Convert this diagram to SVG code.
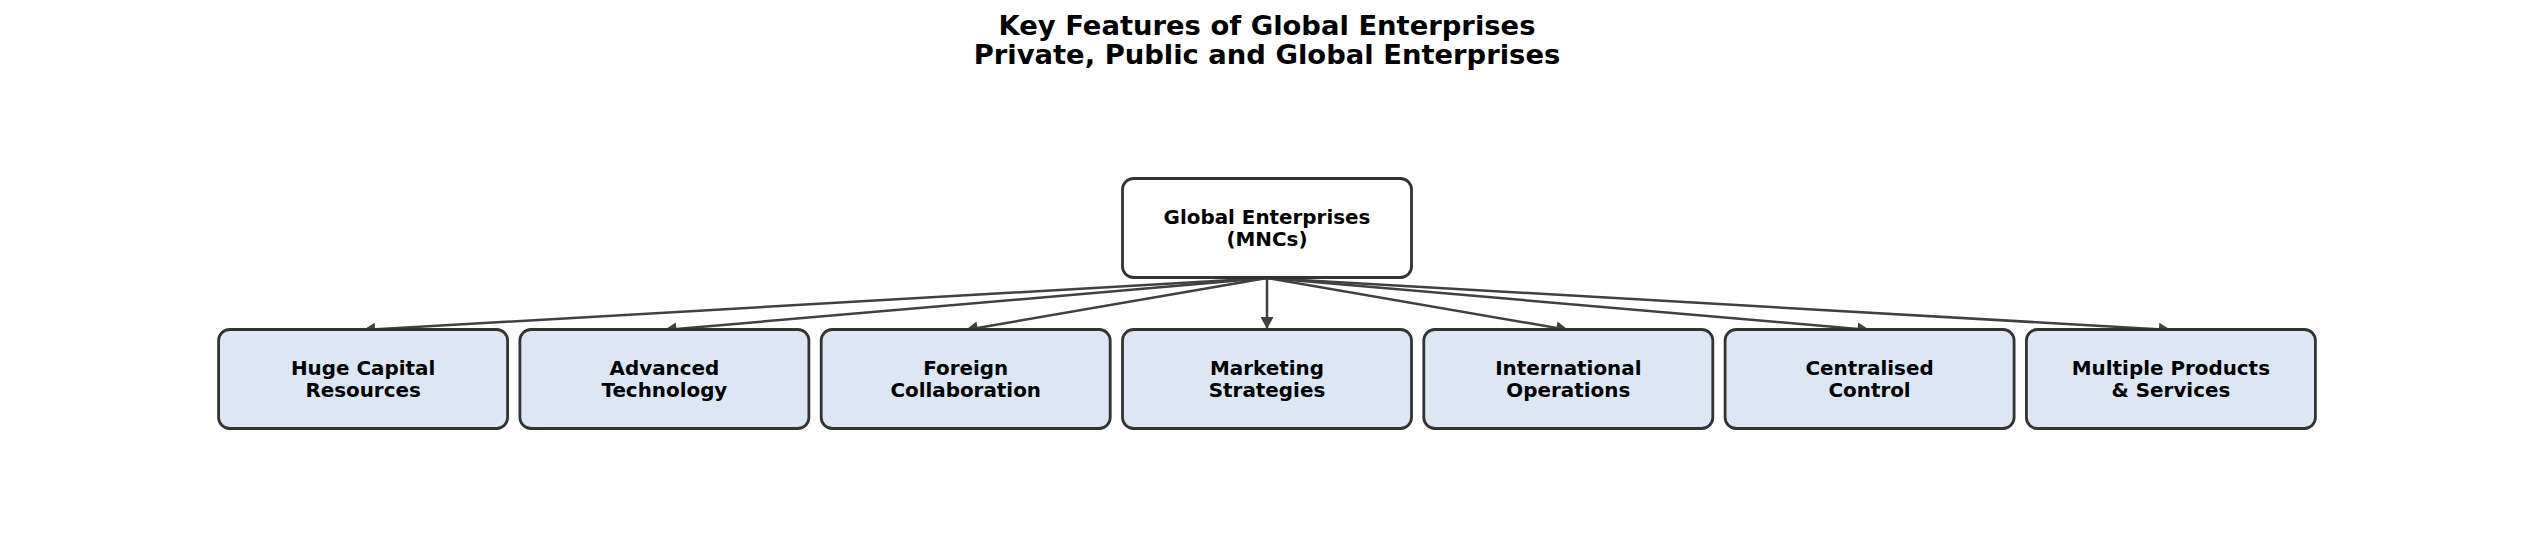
<svg xmlns="http://www.w3.org/2000/svg" width="2534" height="546" viewBox="0 0 2534 546">
<style>
.title{font-family:"DejaVu Sans",sans-serif;font-weight:bold;font-size:27.4px;fill:#000;text-anchor:middle}
.lbl{font-family:"DejaVu Sans",sans-serif;font-weight:bold;font-size:19.9px;fill:#000;text-anchor:middle}
.root{fill:#ffffff;stroke:#333333;stroke-width:2.8}
.child{fill:#dce7f3;stroke:#333333;stroke-width:2.8}
.edge{stroke:#404040;stroke-width:2.5;fill:none;marker-end:url(#ah)}
</style>
<defs>
<marker id="ah" markerUnits="userSpaceOnUse" markerWidth="14" markerHeight="14" viewBox="0 0 12 14" refX="12" refY="7" orient="auto">
<path d="M0,0.5 L12,7 L0,13.5 Z" fill="#404040"/>
</marker>
</defs>
<rect width="2534" height="546" fill="#ffffff"/>
<g id="title">
<text class="title" x="1267" y="35">Key Features of Global Enterprises</text>
<text class="title" x="1267" y="64">Private, Public and Global Enterprises</text>
</g>
<g id="connectors">
<line class="edge" x1="1267" y1="278" x2="363.1" y2="330"/>
<line class="edge" x1="1267" y1="278" x2="664.4" y2="330"/>
<line class="edge" x1="1267" y1="278" x2="965.7" y2="330"/>
<line class="edge" x1="1267" y1="278" x2="1267" y2="329"/>
<line class="edge" x1="1267" y1="278" x2="1568.3" y2="330"/>
<line class="edge" x1="1267" y1="278" x2="1869.6" y2="330"/>
<line class="edge" x1="1267" y1="278" x2="2170.9" y2="330"/>
</g>
<g id="root">
<rect class="root" x="1122.5" y="178.5" width="289" height="99" rx="11"/>
<text class="lbl" x="1267" y="223.5">Global Enterprises</text>
<text class="lbl" x="1267" y="246">(MNCs)</text>
</g>
<g id="n1">
<rect class="child" x="218.6" y="329.5" width="289" height="99" rx="11"/>
<text class="lbl" x="363.1" y="374.5">Huge Capital</text>
<text class="lbl" x="363.1" y="397">Resources</text>
</g>
<g id="n2">
<rect class="child" x="519.9" y="329.5" width="289" height="99" rx="11"/>
<text class="lbl" x="664.4" y="374.5">Advanced</text>
<text class="lbl" x="664.4" y="397">Technology</text>
</g>
<g id="n3">
<rect class="child" x="821.2" y="329.5" width="289" height="99" rx="11"/>
<text class="lbl" x="965.7" y="374.5">Foreign</text>
<text class="lbl" x="965.7" y="397">Collaboration</text>
</g>
<g id="n4">
<rect class="child" x="1122.5" y="329.5" width="289" height="99" rx="11"/>
<text class="lbl" x="1267" y="374.5">Marketing</text>
<text class="lbl" x="1267" y="397">Strategies</text>
</g>
<g id="n5">
<rect class="child" x="1423.8" y="329.5" width="289" height="99" rx="11"/>
<text class="lbl" x="1568.3" y="374.5">International</text>
<text class="lbl" x="1568.3" y="397">Operations</text>
</g>
<g id="n6">
<rect class="child" x="1725.1" y="329.5" width="289" height="99" rx="11"/>
<text class="lbl" x="1869.6" y="374.5">Centralised</text>
<text class="lbl" x="1869.6" y="397">Control</text>
</g>
<g id="n7">
<rect class="child" x="2026.4" y="329.5" width="289" height="99" rx="11"/>
<text class="lbl" x="2170.9" y="374.5">Multiple Products</text>
<text class="lbl" x="2170.9" y="397">&amp; Services</text>
</g>
</svg>
